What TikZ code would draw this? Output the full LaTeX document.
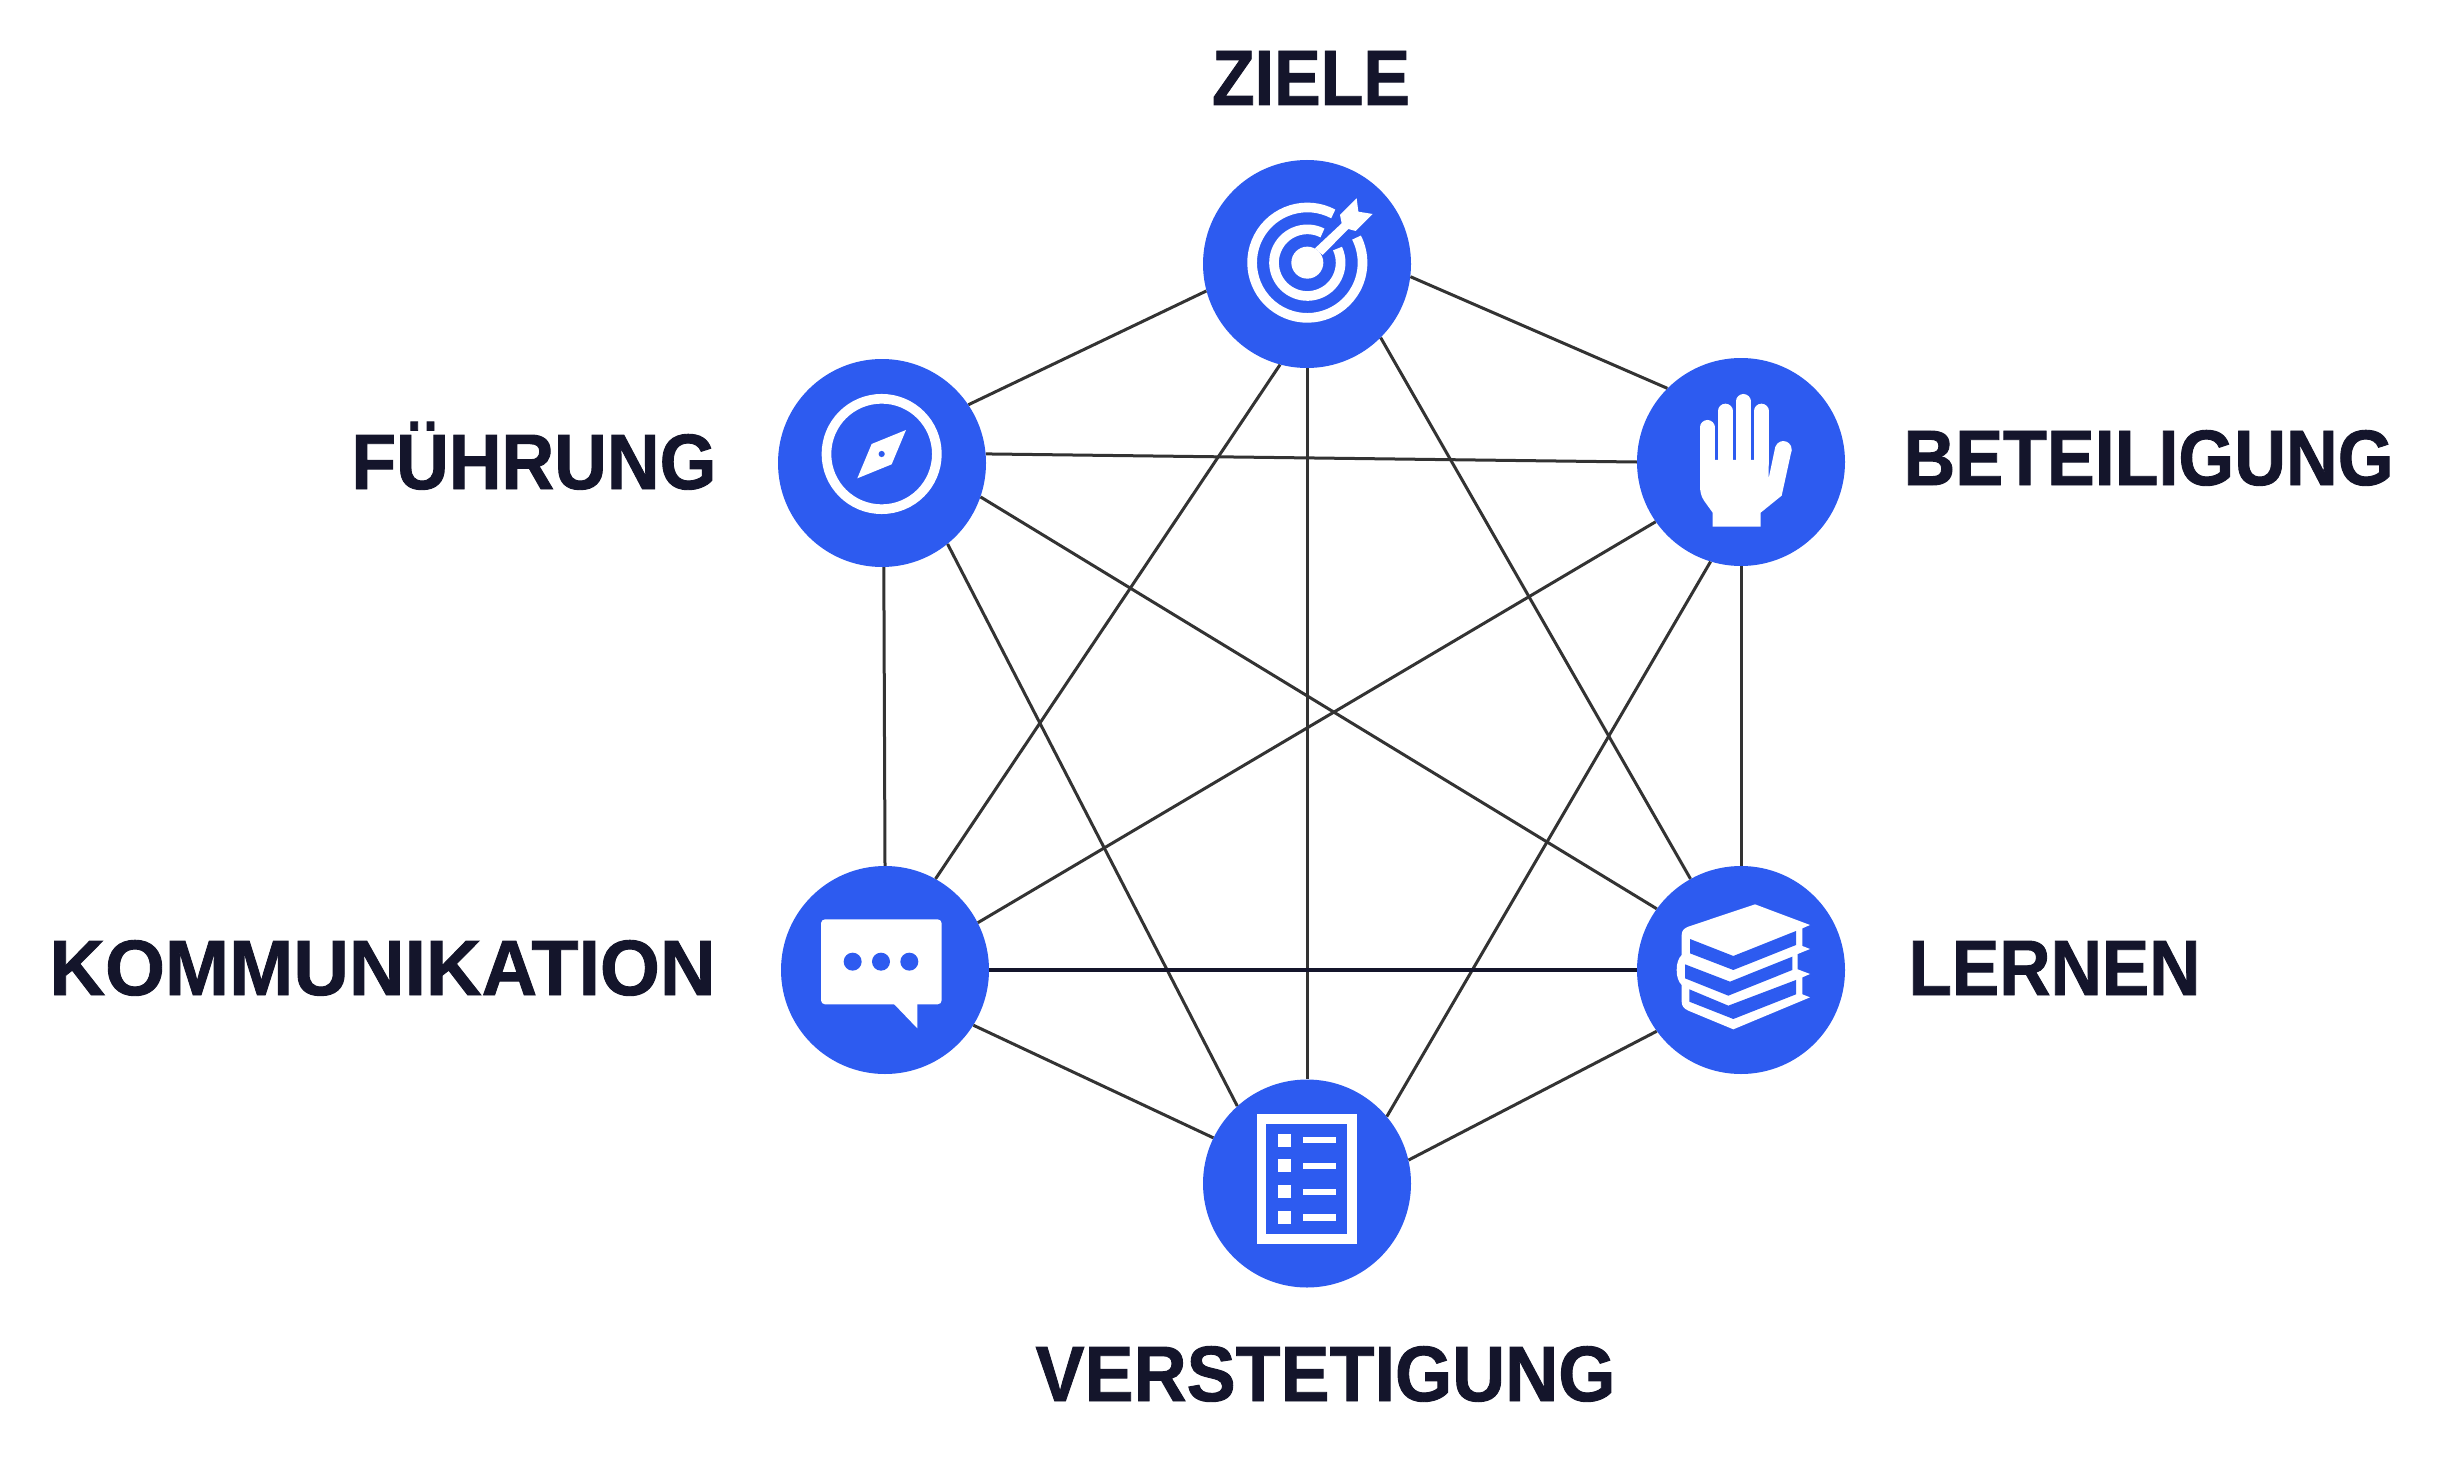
\documentclass[tikz,border=0pt]{standalone}
\usepackage{graphicx}
\usepackage{fontspec}
\setmainfont[BoldFeatures={FakeBold=1.2}]{Liberation Sans}
\definecolor{hub}{HTML}{2D5BF0}
\definecolor{ink}{HTML}{14152B}
\definecolor{wire}{HTML}{333333}
\tikzset{
  hubnode/.style={circle,fill=hub,inner sep=0pt,minimum size=208pt},
  lbl/.style={anchor=base,inner sep=0pt,text=ink,font=\fontsize{78.5pt}{78.5pt}\selectfont\bfseries},
  wireline/.style={draw=wire,line width=3pt},
  boldwire/.style={draw=ink,line width=3.8pt},
  ico/.style={fill=white,draw=none},
  icoblue/.style={fill=hub,draw=none},
  ring/.style={draw=white,line width=9.67pt}
}
\begin{document}
\begin{tikzpicture}[x=1pt,y=-1pt]
\useasboundingbox (0,0) rectangle (2438,1466);
\fill[white] (0,0) rectangle (2438,1466);
% hubs
\node[hubnode] (Z) at (1307,264) {};
\node[hubnode] (F) at (882,463) {};
\node[hubnode] (B) at (1741,462) {};
\node[hubnode] (K) at (885,970) {};
\node[hubnode] (L) at (1741,970) {};
\node[hubnode] (V) at (1307,1183.5) {};
% connectors
\draw[wireline] (Z.-7.2) -- (B.135.4);
\draw[wireline] (Z.195) -- (F.34.9);
\draw[wireline] (Z.255.7) -- (K.61);
\draw[wireline] (Z.270) -- (V.90);
\draw[wireline] (Z.-45) -- (L.119.7);
\draw[wireline] (F.5) -- (B.180);
\draw[wireline] (F.-19) -- (L.144);
\draw[wireline] (F.-51.7) -- (V.132.6);
\draw[wireline] (F.-89.5) -- (K.90);
\draw[wireline] (B.215.2) -- (K.27.6);
\draw[wireline] (B.270) -- (L.90);
\draw[wireline] (B.253.8) -- (V.40.9);
\draw[boldwire] (K.-0.8) -- (L.180);
\draw[wireline] (K.-32) -- (V.154.4);
\draw[wireline] (L.216.4) -- (V.13);
% labels
\node[lbl] (tZ) at (1311,105) {\resizebox{198pt}{\height}{ZIELE}};
\node[lbl] (tF) at (534,489) {\resizebox{365pt}{\height}{FÜHRUNG}};
\node[lbl] (tB) at (2148.5,485) {\resizebox{490pt}{\height}{BETEILIGUNG}};
\node[lbl] (tK) at (382.5,995) {\resizebox{666pt}{\height}{KOMMUNIKATION}};
\node[lbl] (tL) at (2054.5,995) {\resizebox{292pt}{\height}{LERNEN}};
\node[lbl] (tV) at (1325.5,1401) {\resizebox{580pt}{\height}{VERSTETIGUNG}};
% target icon
\begin{scope}[shift={(1190,150)},x=0.3333pt,y=-0.3333pt]
  \coordinate (tc) at (352,338);
  \draw[ring] ([shift={(62:55.2pt)}]tc) arc[start angle=62,end angle=387,radius=55.2pt];
  \draw[ring] ([shift={(63:33.3pt)}]tc) arc[start angle=63,end angle=385,radius=33.3pt];
  \fill[ico] (tc) circle[radius=16pt];
  \fill[ico] (375,295)--(455,220)--(450,195)--(500,145)--(505,185)--(548,192)--(497,243)--(475,237)--(398,315)--cycle;
\end{scope}
% compass icon
\begin{scope}[shift={(770,350)},x=0.3333pt,y=-0.3333pt]
  \coordinate (cc) at (335,312);
  \draw[ring] (cc) circle[radius=55.2pt];
  \fill[ico] (408,240)--(365,343)--(262,385)--(305,282)--cycle;
  \fill[icoblue] (cc) circle[radius=3.1pt];
\end{scope}
% hand icon
\begin{scope}[shift={(1630,350)},x=0.3333pt,y=-0.3333pt]
  \fill[ico] (210,330)--(416,330)--(416,385)--(436,290)--(485,300)--(455,437)--(392,488)--(392,530)--(248,530)--(248,488)--(222,452)
     .. controls (213,438) and (210,425) .. (210,405)--cycle;
  \draw[white,line width=14.67pt,line cap=round] (232,340)--(232,232);
  \draw[white,line width=14.67pt,line cap=round] (286,340)--(286,183);
  \draw[white,line width=14.67pt,line cap=round] (340,340)--(340,154);
  \draw[white,line width=14.67pt,line cap=round] (394,340)--(394,183);
  \fill[ico] (460,298) circle[radius=8.3pt];
\end{scope}
% speech icon
\begin{scope}[shift={(770,860)},x=0.3333pt,y=-0.3333pt]
  \fill[ico,rounded corners=4pt] (153,178) rectangle (515,433);
  \fill[ico] (370,430)--(442,505)--(442,430)--cycle;
  \fill[icoblue] (248,305) circle[radius=9pt];
  \fill[icoblue] (333,305) circle[radius=9pt];
  \fill[icoblue] (418,305) circle[radius=9pt];
\end{scope}
% books icon
\begin{scope}[shift={(1630,860)},x=0.3333pt,y=-0.3333pt]
  \fill[ico] (375,133)--(540,195)--(517,205)--(517,258)--(540,267)--(503,282)--(503,328)--(540,342)--(517,352)--(517,403)--(540,412)--(310,508)--(175,452)
     .. controls (162,446) and (155,438) .. (155,425)--(155,375)
     .. controls (145,365) and (140,350) .. (140,330)
     .. controls (140,310) and (145,295) .. (155,285)--(155,225)
     .. controls (155,212) and (162,205) .. (175,200)--cycle;
  \fill[icoblue] (180,237)--(310,288)--(498,213)--(498,255)--(310,330)--(180,280)--cycle;
  \fill[icoblue] (165,313)--(300,365)--(487,290)--(487,330)--(295,407)--(165,355)--cycle;
  \fill[icoblue] (178,388)--(295,437)--(498,360)--(498,403)--(310,477)--(178,425)--cycle;
\end{scope}
% checklist icon
\begin{scope}[shift={(1200,1080)},x=0.3333pt,y=-0.3333pt]
  \fill[ico] (170,103) rectangle (470,491);
  \fill[icoblue] (199,132) rectangle (441,462);
  \fill[ico] (233,161) rectangle (272,200);
  \fill[ico] (233,238) rectangle (272,277);
  \fill[ico] (233,316) rectangle (272,355);
  \fill[ico] (233,393) rectangle (272,432);
  \fill[ico] (310,171) rectangle (408,190);
  \fill[ico] (310,248) rectangle (408,268);
  \fill[ico] (310,326) rectangle (408,345);
  \fill[ico] (310,403) rectangle (408,423);
\end{scope}
\end{tikzpicture}
\end{document}
